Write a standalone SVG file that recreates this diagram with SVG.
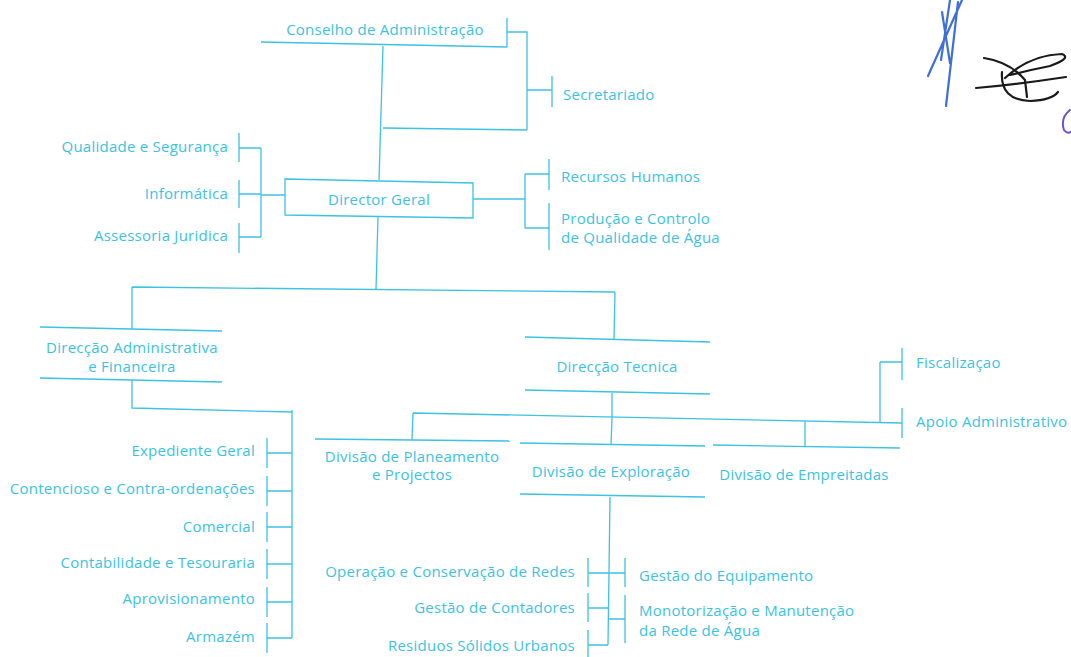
<svg xmlns="http://www.w3.org/2000/svg" width="1071" height="657" viewBox="0 0 1071 657">
<style>
.t{font-family:"Open Sans","Noto Sans",sans-serif;font-size:15px;letter-spacing:0.25px;fill:#3cc2e2}
.m{text-anchor:middle}.e{text-anchor:end}
.l{stroke:#3cc2e2;stroke-width:1.3;fill:none}
</style>
<rect width="1071" height="657" fill="#ffffff"/>
<g id="connectors" class="l">
<path d="M507,18V47M507,32H527V130M527,90H552M552,76V107"/>
<path d="M383,46L379,180M383,128L527,130"/>
<path d="M473,199H525M525,174V228M525,174H549M525,228H549M549,159V190M549,203V250"/>
<path d="M261,195H285M261,148V237M239,148H261M239,194H261M239,237H261M239,133V162M239,180V208M239,223V253"/>
<path d="M378,216L376,290M132,287L615,292M132,287V329"/>
<path d="M132,380V408L292,412M292,410V638"/>
<path d="M267,453H292M267,491H292M267,527H292M267,564H292M267,602H292M267,638H292"/>
<path d="M267,438V468M267,476V506M267,512V542M267,549V579M267,587V617M267,623V653"/>
<path d="M615,292L614,340M612,393V418M413,413L902,423M413,413L412,440M612,418L611,445M805,421V447"/>
<path d="M880,362V422M880,362H902M902,348V380M902,408V438"/>
<path d="M610,497L608,645M588,573H625M588,608H608M588,645H608M608,619H625"/>
<path d="M588,558V587M588,593V622M588,630V657M625,558V587M625,595V643"/>
</g>
<g id="conselho"><path class="l" d="M261,42L507,47"/><text class="t m" x="385" y="35">Conselho de Administração</text></g>
<g id="secretariado"><text class="t" x="563" y="100">Secretariado</text></g>
<g id="director"><path class="l" d="M285,179L473,183V218L285,215Z"/><text class="t m" x="379" y="205">Director Geral</text></g>
<g id="qualidade"><text class="t e" x="228" y="152">Qualidade e Segurança</text></g>
<g id="informatica"><text class="t e" x="228" y="199">Informática</text></g>
<g id="assessoria"><text class="t e" x="228" y="241">Assessoria Juridica</text></g>
<g id="rh"><text class="t" x="561" y="182">Recursos Humanos</text></g>
<g id="producao"><text class="t" x="561" y="224">Produção e Controlo</text><text class="t" x="561" y="243">de Qualidade de Água</text></g>
<g id="daf"><path class="l" d="M40,327L222,331M40,378L222,382"/><text class="t m" x="132" y="353">Direcção Administrativa</text><text class="t m" x="132" y="372">e Financeira</text></g>
<g id="dt"><path class="l" d="M525,337L710,342M525,390L710,394"/><text class="t m" x="617" y="372">Direcção Tecnica</text></g>
<g id="fiscalizacao"><text class="t" x="916" y="368">Fiscalizaçao</text></g>
<g id="apoio"><text class="t" x="916" y="427">Apoio Administrativo</text></g>
<g id="planeamento"><path class="l" d="M315,439L510,441"/><text class="t m" x="412" y="462">Divisão de Planeamento</text><text class="t m" x="412" y="480">e Projectos</text></g>
<g id="exploracao"><path class="l" d="M520,443L705,446M520,494L705,497"/><text class="t m" x="611" y="477">Divisão de Exploração</text></g>
<g id="empreitadas"><path class="l" d="M713,445L900,448"/><text class="t m" x="804" y="480">Divisão de Empreitadas</text></g>
<g id="expediente"><text class="t e" x="255" y="456">Expediente Geral</text></g>
<g id="contencioso"><text class="t e" x="255" y="494">Contencioso e Contra-ordenações</text></g>
<g id="comercial"><text class="t e" x="255" y="532">Comercial</text></g>
<g id="contabilidade"><text class="t e" x="255" y="568">Contabilidade e Tesouraria</text></g>
<g id="aprovisionamento"><text class="t e" x="255" y="604">Aprovisionamento</text></g>
<g id="armazem"><text class="t e" x="255" y="642">Armazém</text></g>
<g id="operacao"><text class="t e" x="575" y="577">Operação e Conservação de Redes</text></g>
<g id="contadores"><text class="t e" x="575" y="613">Gestão de Contadores</text></g>
<g id="residuos"><text class="t e" x="575" y="651">Residuos Sólidos Urbanos</text></g>
<g id="equipamento"><text class="t" x="639" y="581">Gestão do Equipamento</text></g>
<g id="monotorizacao"><text class="t" x="639" y="616">Monotorização e Manutenção</text><text class="t" x="639" y="636">da Rede de Água</text></g>
<g id="signatures" fill="none" stroke-linecap="round">
<path stroke="#3f6fd8" stroke-width="2.2" d="M962,0L928,76M958,2L946,106M950,0L941,60M942,12L950,63"/>
<path stroke="#1a1a1a" stroke-width="2.2" d="M976,88Q1020,84 1066,77M984,58Q1010,62 1025,80L1027,97M1002,72Q1000,100 1030,101Q1052,100 1058,92M1005,78Q1030,55 1062,54Q1072,58 1050,66Q1030,70 1010,75"/>
<path stroke="#6a4fd0" stroke-width="2" d="M1070,110Q1060,118 1064,130Q1067,134 1071,132"/>
</g>
</svg>
